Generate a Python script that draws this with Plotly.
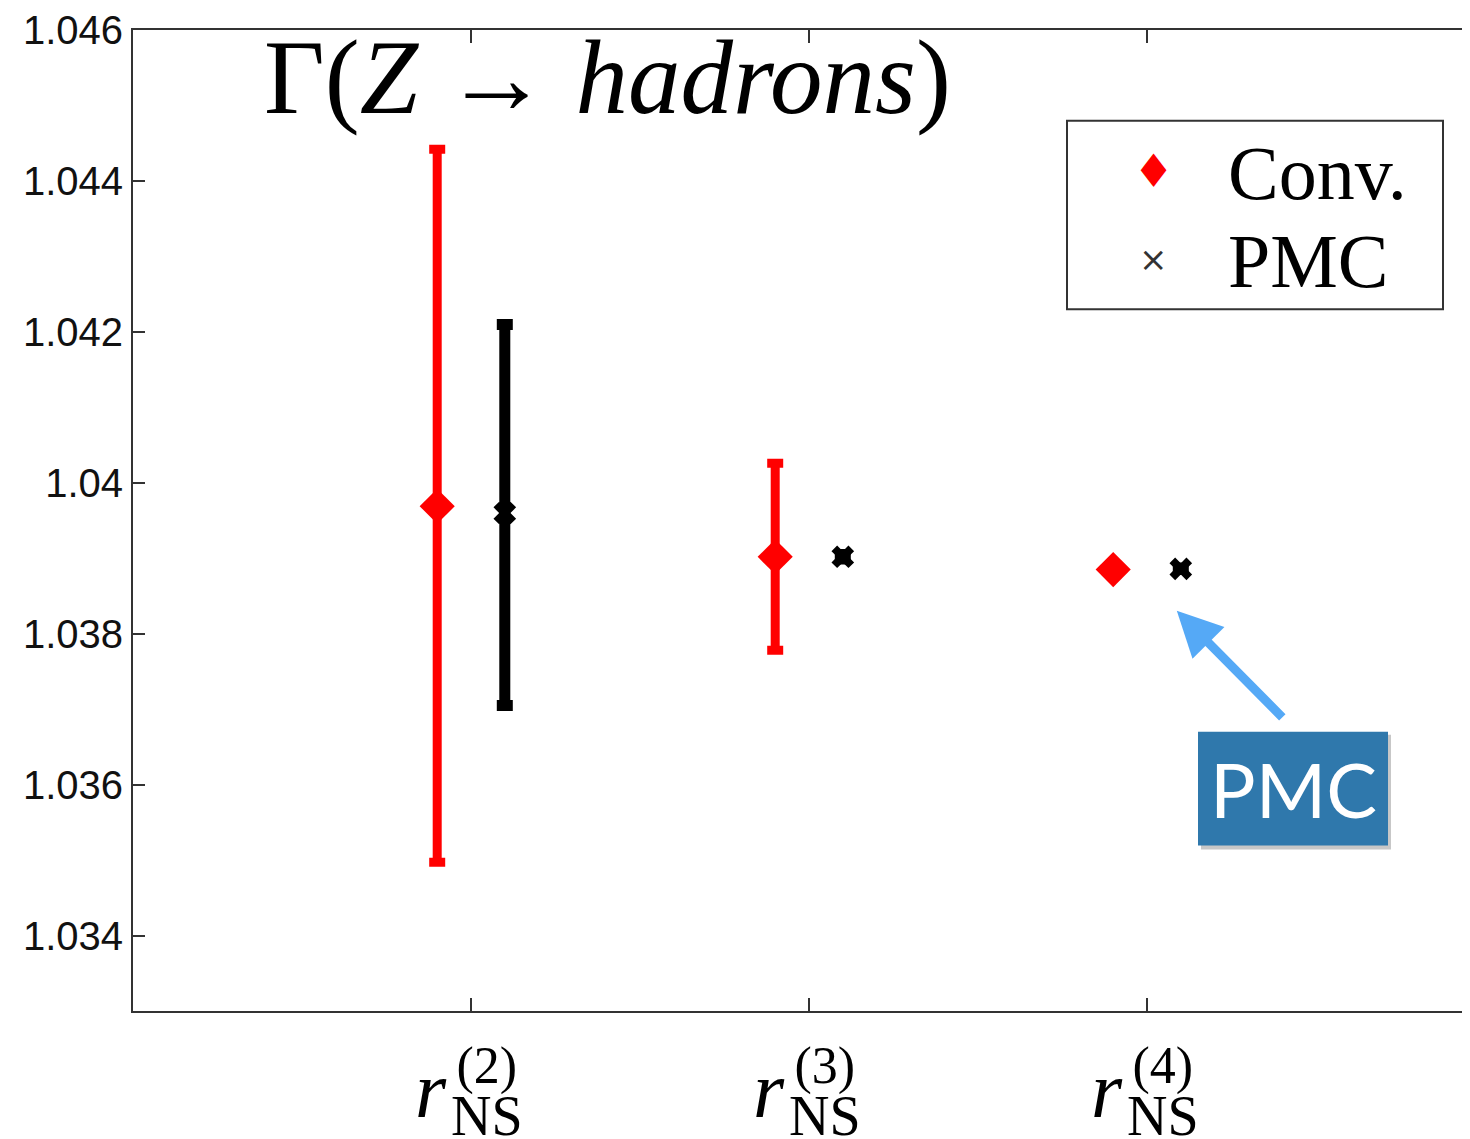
import plotly.graph_objects as go

# ---- data ----
categories = [1, 2, 3]
cat_sup = ["(2)", "(3)", "(4)"]
conv_x = [0.9, 1.9, 2.9]
conv_y = [1.03969, 1.03902, 1.03885]
conv_err_plus = [0.00473, 0.00124, 0.00005]
conv_err_minus = [0.00472, 0.00124, 0.00005]
pmc_x = [1.1, 2.1, 3.1]
pmc_y = [1.03960, 1.03902, 1.03886]
pmc_err_plus = [0.00250, 0.00003, 0.00001]
pmc_err_minus = [0.00255, 0.00003, 0.00001]
ytick_vals = [1.034, 1.036, 1.038, 1.040, 1.042, 1.044, 1.046]
ytick_text = ["1.034", "1.036", "1.038", "1.04", "1.042", "1.044", "1.046"]

# ---- layout geometry (page pixels; page has an 8px body margin) ----
OFF = 8
WIDTH, HEIGHT = 1470, 1139
L, T, B = 133, 27, 1011          # target page pixel positions of plot edges
R = WIDTH + OFF                  # right edge of plot area in page pixels
PW, PH = R - L, B - T
def pxx(x):
    return (x - L) / PW
def pxy(y):
    return (B - y) / PH

SERIF = "Liberation Serif, DejaVu Serif, serif"

fig = go.Figure()
fig.add_trace(go.Scatter(
    x=conv_x, y=conv_y, mode="markers", name="Conv.",
    marker=dict(symbol="diamond", size=27, color="#ff0000", line=dict(width=0)),
    error_y=dict(type="data", symmetric=False, array=conv_err_plus,
                 arrayminus=conv_err_minus, color="#ff0000", thickness=9, width=8),
    showlegend=False,
))
fig.add_trace(go.Scatter(
    x=pmc_x, y=pmc_y, mode="markers", name="PMC",
    marker=dict(symbol="x", size=20, color="#000000", line=dict(width=0)),
    error_y=dict(type="data", symmetric=False, array=pmc_err_plus,
                 arrayminus=pmc_err_minus, color="#000000", thickness=11, width=8),
    showlegend=False,
))

annotations = []
# title
annotations.append(dict(
    text="Γ(<i>Z</i> → <i>hadrons</i>)", xref="paper", yref="paper",
    x=pxx(262), y=pxy(75), xanchor="left", yanchor="middle", showarrow=False,
    font=dict(family=SERIF, size=105, color="#000000"),
))
# x tick labels r_NS^(n)
for c, s in zip(categories, cat_sup):
    annotations.append(dict(text="<i>r</i>", xref="x", yref="paper", x=c, xshift=-40,
                            y=pxy(1090), xanchor="center", yanchor="middle", showarrow=False,
                            font=dict(family=SERIF, size=80, color="#000000")))
    annotations.append(dict(
        text=("<span style='font-size:52px'>" + s + "</span><br>"
              "<span style='font-size:56px'>NS</span>"),
        xref="x", yref="paper", x=c, xshift=16, y=pxy(1092),
        xanchor="center", yanchor="middle", showarrow=False, align="center",
        font=dict(family=SERIF, size=40, color="#000000")))

# manual legend
annotations.append(dict(text="♦", xref="paper", yref="paper", x=pxx(1153), y=pxy(168),
                        xanchor="center", yanchor="middle", showarrow=False,
                        font=dict(family="DejaVu Sans", size=46, color="#ff0000")))
annotations.append(dict(text="×", xref="paper", yref="paper", x=pxx(1153), y=pxy(257),
                        xanchor="center", yanchor="middle", showarrow=False,
                        font=dict(family="DejaVu Sans", size=34, color="#333333")))
annotations.append(dict(text="Conv.", xref="paper", yref="paper", x=pxx(1226), y=pxy(170),
                        xanchor="left", yanchor="middle", showarrow=False,
                        font=dict(family=SERIF, size=76, color="#000000")))
annotations.append(dict(text="PMC", xref="paper", yref="paper", x=pxx(1226), y=pxy(259),
                        xanchor="left", yanchor="middle", showarrow=False,
                        font=dict(family=SERIF, size=76, color="#000000")))

# arrow pointing at PMC marker
annotations.append(dict(text="", xref="x", yref="y", x=pmc_x[2], y=pmc_y[2],
                        xshift=-4, yshift=-42, ax=107, ay=108,
                        showarrow=True, arrowhead=2, arrowsize=1.0, arrowwidth=9,
                        arrowcolor="#55a9f6", standoff=0))
# PMC label box
annotations.append(dict(text="PMC", xref="paper", yref="paper", x=pxx(1293), y=pxy(788),
                        xanchor="center", yanchor="middle", showarrow=False,
                        font=dict(family="Lato, Open Sans, sans-serif", size=76, color="#ffffff")))

shapes = [
    dict(type="rect", xref="paper", yref="paper", x0=pxx(1067), x1=pxx(1443),
         y0=pxy(307), y1=pxy(118), line=dict(color="#333333", width=2), fillcolor="#ffffff",
         layer="below"),
    dict(type="rect", xref="paper", yref="paper", x0=pxx(1201), x1=pxx(1391),
         y0=pxy(849), y1=pxy(734), line=dict(width=0), fillcolor="rgba(0,0,0,0.22)",
         layer="above"),
    dict(type="rect", xref="paper", yref="paper", x0=pxx(1198), x1=pxx(1388),
         y0=pxy(845), y1=pxy(731), line=dict(width=0), fillcolor="#2f78ac",
         layer="above"),
]

fig.update_layout(
    width=WIDTH, height=HEIGHT,
    margin=dict(l=L - OFF, r=0, t=T - OFF, b=HEIGHT - (B - OFF), pad=0),
    paper_bgcolor="#ffffff", plot_bgcolor="#ffffff",
    showlegend=False,
    annotations=annotations,
    shapes=shapes,
    xaxis=dict(range=[0, (R - L) / 338.0], tickvals=categories, ticktext=["", "", ""],
               showgrid=False, zeroline=False, showline=True, linecolor="#333333",
               linewidth=2, mirror="ticks", ticks="inside", ticklen=13, tickwidth=1.5,
               tickcolor="#333333"),
    yaxis=dict(range=[1.033, 1.046002], tickvals=ytick_vals, ticktext=ytick_text,
               showgrid=False, zeroline=False, showline=True, linecolor="#333333",
               linewidth=2, mirror=False, ticks="inside", ticklen=12, tickwidth=1.5,
               tickcolor="#333333", ticklabeloverflow="allow",
               tickfont=dict(family="Liberation Sans, Arial, sans-serif", size=40,
                             color="#111111")),
)

fig.write_html("out.html")
